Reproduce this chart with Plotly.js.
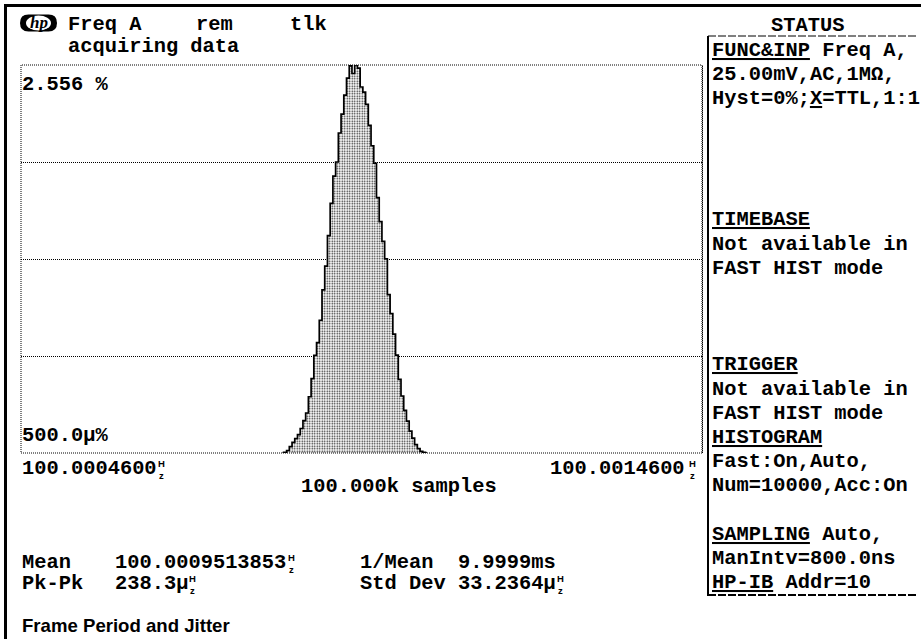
<!DOCTYPE html>
<html>
<head>
<meta charset="utf-8">
<script src="https://cdn.plot.ly/plotly-3.0.1.min.js"></script>
<style>html,body{margin:0;padding:0;background:#fff;}#chart{width:921px;height:639px;}</style>
</head>
<body>
<div id="chart"></div>
<script>
// ---- data (histogram of frequency, % of samples per bin) ----
const binFreqHz = [
  100.000844, 100.000848, 100.000852, 100.000856, 100.000860, 100.000864, 100.000868, 100.000872,
  100.000876, 100.000880, 100.000884, 100.000888, 100.000892, 100.000896, 100.000900, 100.000904,
  100.000908, 100.000912, 100.000916, 100.000920, 100.000924, 100.000928, 100.000932, 100.000936,
  100.000940, 100.000944, 100.000948, 100.000952, 100.000956, 100.000960, 100.000964, 100.000968,
  100.000972, 100.000976, 100.000980, 100.000984, 100.000988, 100.000992, 100.000996, 100.001000,
  100.001004, 100.001008, 100.001012, 100.001016, 100.001020, 100.001024, 100.001028, 100.001032,
  100.001036, 100.001040, 100.001044, 100.001048, 100.001052, 100.001056
];
const binPercent = [
  0.003, 0.004, 0.017, 0.043, 0.070, 0.095, 0.121, 0.162,
  0.214, 0.264, 0.371, 0.491, 0.643, 0.728, 0.875, 1.075,
  1.231, 1.432, 1.645, 1.824, 1.917, 2.108, 2.233, 2.357,
  2.469, 2.550, 2.500, 2.556, 2.536, 2.411, 2.378, 2.297,
  2.159, 2.024, 1.909, 1.683, 1.525, 1.394, 1.279, 1.043,
  0.919, 0.783, 0.645, 0.485, 0.376, 0.281, 0.210, 0.144,
  0.099, 0.056, 0.029, 0.011, 0.005, 0.001
];
const xRangeHz = [100.00046, 100.00146];
const yRangePct = [0.0005, 2.556];
const yGridDivisions = 4;

const xTickLabels = ['100.0004600', '100.0014600'];
const yTickLabels = ['2.556 %', '500.0\u00b5%'];
const headerTexts = ['Freq A', 'rem', 'tlk', 'acquiring data'];
const statusLines = [
  '<u>FUNC&amp;INP</u> Freq A,', '25.00mV,AC,1M\u03a9,', 'Hyst=0%;<u>X</u>=TTL,1:1',
  '', '', '', '', '<u>TIMEBASE</u>', 'Not available in', 'FAST HIST mode',
  '', '', '', '<u>TRIGGER</u>', 'Not available in', 'FAST HIST mode',
  '<u>HISTOGRAM</u>', 'Fast:On,Auto,', 'Num=10000,Acc:On', '',
  '<u>SAMPLING</u> Auto,', 'ManIntv=800.0ns', '<u>HP-IB</u> Addr=10'
];
const samplesText = '100.000k samples';
const statsLabels = ['Mean', 'Pk-Pk'];
const statsValues = ['100.0009513853', '238.3\u00b5'];
const statsRight = ['1/Mean  9.9999ms', 'Std Dev 33.2364\u00b5'];
const captionText = 'Frame Period and Jitter';

// ---- layout helpers (pixel -> paper) ----
const L = 21, R = 702, T = 65, B = 453, W = 921, H = 639;
const PX = x => (x - L) / (R - L);
const PY = y => (B - y) / (B - T);
const MONO = 'Liberation Mono, DejaVu Sans Mono, monospace';
const FS = 20.4;

const annotations = [];
function txt(text, x, y, opts) {
  opts = opts || {};
  annotations.push({
    text: text, xref: 'paper', yref: 'paper', x: PX(x), y: PY(y),
    xanchor: opts.anchor || 'left', yanchor: 'middle', showarrow: false,
    font: {family: opts.family || MONO, size: opts.size || FS, color: '#000', weight: opts.weight || 'bold'},
    borderpad: 0
  });
}
// stacked "H over z" unit glyph of the instrument font
function hz(xLeft, yc) {
  txt('H<br>z', xLeft, yc, {size: 9.5, family: 'Liberation Sans, Arial, sans-serif'});
}

// header
txt(headerTexts[0], 67, 24.5);
txt(headerTexts[1], 195, 24.5);
txt(headerTexts[2], 289, 24.5);
txt(headerTexts[3], 67, 46.5);
txt('<i>hp</i>', 38.5, 22.5, {anchor: 'center', family: 'Liberation Serif, serif', size: 17});
txt('STATUS', 807, 25.5, {anchor: 'center'});

// status panel
statusLines.forEach((s, i) => { if (s) txt(s, 711, 50.5 + 24.19 * i); });

// axis labels
txt(yTickLabels[0], 21, 84.5);
txt(yTickLabels[1], 21, 435);
txt(xTickLabels[0], 21, 468);
hz(157, 469);
txt(xTickLabels[1], 686, 468, {anchor: 'right'});
hz(688, 469);
txt(samplesText, 300, 487);

// stats
txt(statsLabels[0], 21, 562);
txt(statsValues[0], 114, 562);
hz(287, 563);
txt(statsLabels[1], 21, 583);
txt(statsValues[1], 114, 583);
hz(188, 584);
txt(statsRight[0], 359, 562);
txt(statsRight[1], 359, 583);
hz(556, 584);

txt(captionText, 21, 625, {family: 'Liberation Sans, Arial, sans-serif', size: 18.6, weight: 'bold'});

// capsule-shaped black logo background
function capsulePath(x0, x1, y0, y1) {
  const r = (y1 - y0) / 2;
  const xs = v => PX(v).toFixed(5), ys = v => PY(v).toFixed(5);
  return 'M' + xs(x0 + r) + ',' + ys(y0) + ' L' + xs(x1 - r) + ',' + ys(y0) +
    ' Q' + xs(x1) + ',' + ys(y0) + ' ' + xs(x1) + ',' + ys(y0 + r) +
    ' Q' + xs(x1) + ',' + ys(y1) + ' ' + xs(x1 - r) + ',' + ys(y1) +
    ' L' + xs(x0 + r) + ',' + ys(y1) +
    ' Q' + xs(x0) + ',' + ys(y1) + ' ' + xs(x0) + ',' + ys(y0 + r) +
    ' Q' + xs(x0) + ',' + ys(y0) + ' ' + xs(x0 + r) + ',' + ys(y0) + ' Z';
}

const shapes = [
  // plot frame (dotted)
  {type: 'rect', xref: 'paper', yref: 'paper', x0: 0, x1: 1, y0: 0, y1: 1,
   line: {color: '#000', width: 1, dash: '1px,1px'}},
  {type: 'line', xref: 'paper', yref: 'paper', x0: PX(702.5), x1: PX(702.5), y0: 0, y1: 1,
   line: {color: '#000', width: 1, dash: '1px,1px'}},
  // outer black border
  {type: 'line', xref: 'paper', yref: 'paper', x0: PX(5.5), x1: PX(5.5), y0: PY(4), y1: PY(H),
   line: {color: '#000', width: 3}},
  {type: 'line', xref: 'paper', yref: 'paper', x0: PX(4), x1: PX(W), y0: PY(5.5), y1: PY(5.5),
   line: {color: '#000', width: 3}},
  // status panel
  {type: 'line', xref: 'paper', yref: 'paper', x0: PX(708), x1: PX(708), y0: PY(36), y1: PY(596),
   line: {color: '#000', width: 2}},
  {type: 'line', xref: 'paper', yref: 'paper', x0: PX(708), x1: PX(917), y0: PY(36), y1: PY(36),
   line: {color: '#000', width: 1, dash: '8px,2px'}},
  {type: 'line', xref: 'paper', yref: 'paper', x0: PX(708), x1: PX(917), y0: PY(595), y1: PY(595),
   line: {color: '#000', width: 2, dash: '8px,2px'}},
  // hp logo
  {type: 'path', xref: 'paper', yref: 'paper', path: capsulePath(20, 57, 14.5, 31.5),
   fillcolor: '#000', line: {width: 0}, layer: 'below'},
  {type: 'circle', xref: 'paper', yref: 'paper', x0: PX(26), x1: PX(51), y0: PY(30.5), y1: PY(15.5),
   fillcolor: '#fff', line: {width: 0}, layer: 'below'}
];

const gridVals = [];
for (let k = 1; k < yGridDivisions; k++) gridVals.push(yRangePct[0] + k * (yRangePct[1] - yRangePct[0]) / yGridDivisions);

const trace = {
  type: 'scatter', mode: 'lines', x: binFreqHz, y: binPercent,
  line: {shape: 'hvh', color: '#000', width: 1.7},
  fill: 'tozeroy', fillcolor: '#b0b0b0',
  fillpattern: {shape: '.', fgcolor: '#222', bgcolor: '#ffffff', size: 2.5, solidity: 0.3},
  hoverinfo: 'skip'
};

const layout = {
  width: W, height: H,
  margin: {l: L, r: W - R, t: T, b: H - B, pad: 0},
  paper_bgcolor: '#fff', plot_bgcolor: '#fff',
  showlegend: false,
  xaxis: {range: xRangeHz, showgrid: false, zeroline: false, showticklabels: false, ticks: '', showline: false, fixedrange: true},
  yaxis: {range: yRangePct, tickmode: 'array', tickvals: gridVals, showgrid: true, gridcolor: '#000', gridwidth: 1,
          griddash: '1px,1px', zeroline: false, showticklabels: false, ticks: '', showline: false, fixedrange: true},
  annotations: annotations,
  shapes: shapes
};

Plotly.newPlot('chart', [trace], layout, {staticPlot: true, displayModeBar: false});
</script>
</body>
</html>
